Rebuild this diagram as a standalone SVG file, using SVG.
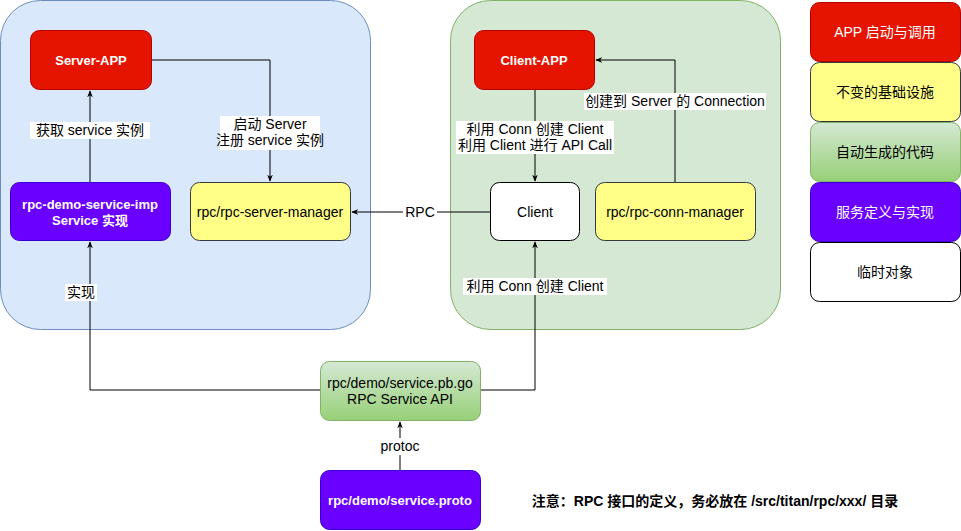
<svg xmlns="http://www.w3.org/2000/svg" width="961" height="531" viewBox="0 0 961 531">
<style>
text{font-family:"Liberation Sans","Noto Sans CJK SC",sans-serif;font-size:14px;text-anchor:middle;dominant-baseline:central;fill:#000}
.w{fill:#fff;font-weight:bold;font-size:13px}
.b{font-weight:bold;font-size:14px}
.red{fill:#e51400;stroke:#b20000}
.yel{fill:#ffff88;stroke:#36393d}
.pur{fill:#6a00ff;stroke:#3700cc}
.wht{fill:#fff;stroke:#000}
.grn{fill:url(#g);stroke:#82b366}
.c{fill:none;stroke:#000;stroke-width:1;marker-end:url(#a)}
.lb{fill:#fff}
</style>
<defs>
<linearGradient id="g" x1="0" y1="0" x2="0" y2="1"><stop offset="0" stop-color="#d5e8d4"/><stop offset="1" stop-color="#97d077"/></linearGradient>
<marker id="a" viewBox="0 0 10 10" refX="9" refY="5" markerWidth="7" markerHeight="7" orient="auto"><path d="M0,1 L10,5 L0,9 L3,5 Z" fill="#000"/></marker>
</defs>
<g id="left-container"><rect x="0.5" y="0.5" width="370" height="329" rx="40" fill="#dae8fc" stroke="#6c8ebf"/></g>
<g id="right-container"><rect x="450.5" y="0.5" width="330" height="329" rx="40" fill="#d5e8d4" stroke="#82b366"/></g>
<g id="connectors">
<path class="c" d="M152,60 H270 V181"/>
<path class="c" d="M90,182 V91"/>
<path class="c" d="M490,212 H352"/>
<path class="c" d="M535,90 V181"/>
<path class="c" d="M675,182 V60 H596"/>
<path class="c" d="M320,390 H90 V242"/>
<path class="c" d="M481,390 H535 V242"/>
<path class="c" d="M400,470 V422"/>
<rect class="lb" x="220" y="116" width="100" height="34"/>
<text x="270" y="124">启动 Server</text><text x="270" y="140">注册 service 实例</text>
<rect class="lb" x="30" y="122" width="120" height="17"/>
<text x="90" y="130">获取 service 实例</text>
<rect class="lb" x="403" y="204" width="34" height="16"/>
<text x="420" y="212">RPC</text>
<rect class="lb" x="456" y="121" width="158" height="33"/>
<text x="535" y="129">利用 Conn 创建 Client</text><text x="535" y="145">利用 Client 进行 API Call</text>
<rect class="lb" x="584" y="93" width="182" height="17"/>
<text x="675" y="101">创建到 Server 的 Connection</text>
<rect class="lb" x="65" y="284" width="32" height="17"/>
<text x="81" y="292">实现</text>
<rect class="lb" x="463" y="278" width="144" height="17"/>
<text x="535" y="286">利用 Conn 创建 Client</text>
<rect class="lb" x="377" y="438" width="46" height="17"/>
<text x="400" y="446">protoc</text>
</g>
<g id="server-app"><rect class="red" x="30.5" y="30.5" width="121" height="59" rx="9"/><text class="w" x="91" y="60">Server-APP</text></g>
<g id="client-app"><rect class="red" x="474.5" y="30.5" width="120" height="59" rx="9"/><text class="w" x="534" y="60">Client-APP</text></g>
<g id="service-imp"><rect class="pur" x="10.5" y="182.5" width="160" height="58" rx="9"/><text class="w" x="90" y="204">rpc-demo-service-imp</text><text class="w" x="90" y="220">Service 实现</text></g>
<g id="server-manager"><rect class="yel" x="190.5" y="182.5" width="160" height="58" rx="9"/><text x="270" y="212">rpc/rpc-server-manager</text></g>
<g id="client"><rect class="wht" x="490.5" y="182.5" width="89" height="58" rx="9"/><text x="535" y="212">Client</text></g>
<g id="conn-manager"><rect class="yel" x="595.5" y="182.5" width="160" height="58" rx="9"/><text x="675" y="212">rpc/rpc-conn-manager</text></g>
<g id="pbgo"><rect class="grn" x="320.5" y="361.5" width="160" height="59" rx="9"/><text x="400" y="383">rpc/demo/service.pb.go</text><text x="400" y="399">RPC Service API</text></g>
<g id="proto"><rect class="pur" x="320.5" y="470.5" width="160" height="59" rx="9"/><text class="w" x="400" y="500">rpc/demo/service.proto</text></g>
<g id="legend">
<rect class="red" x="810.5" y="2.5" width="150" height="59" rx="9"/><text x="885" y="32" style="fill:#fff">APP 启动与调用</text>
<rect class="yel" x="810.5" y="62.5" width="150" height="59" rx="9"/><text x="885" y="92">不变的基础设施</text>
<rect class="grn" x="810.5" y="122.5" width="150" height="59" rx="9"/><text x="885" y="152">自动生成的代码</text>
<rect class="pur" x="810.5" y="182.5" width="150" height="59" rx="9"/><text x="885" y="212" style="fill:#fff">服务定义与实现</text>
<rect class="wht" x="810.5" y="242.5" width="150" height="59" rx="9"/><text x="885" y="272">临时对象</text>
</g>
<g id="note"><text class="b" x="715" y="501">注意：RPC 接口的定义，务必放在 /src/titan/rpc/xxx/ 目录</text></g>
</svg>
